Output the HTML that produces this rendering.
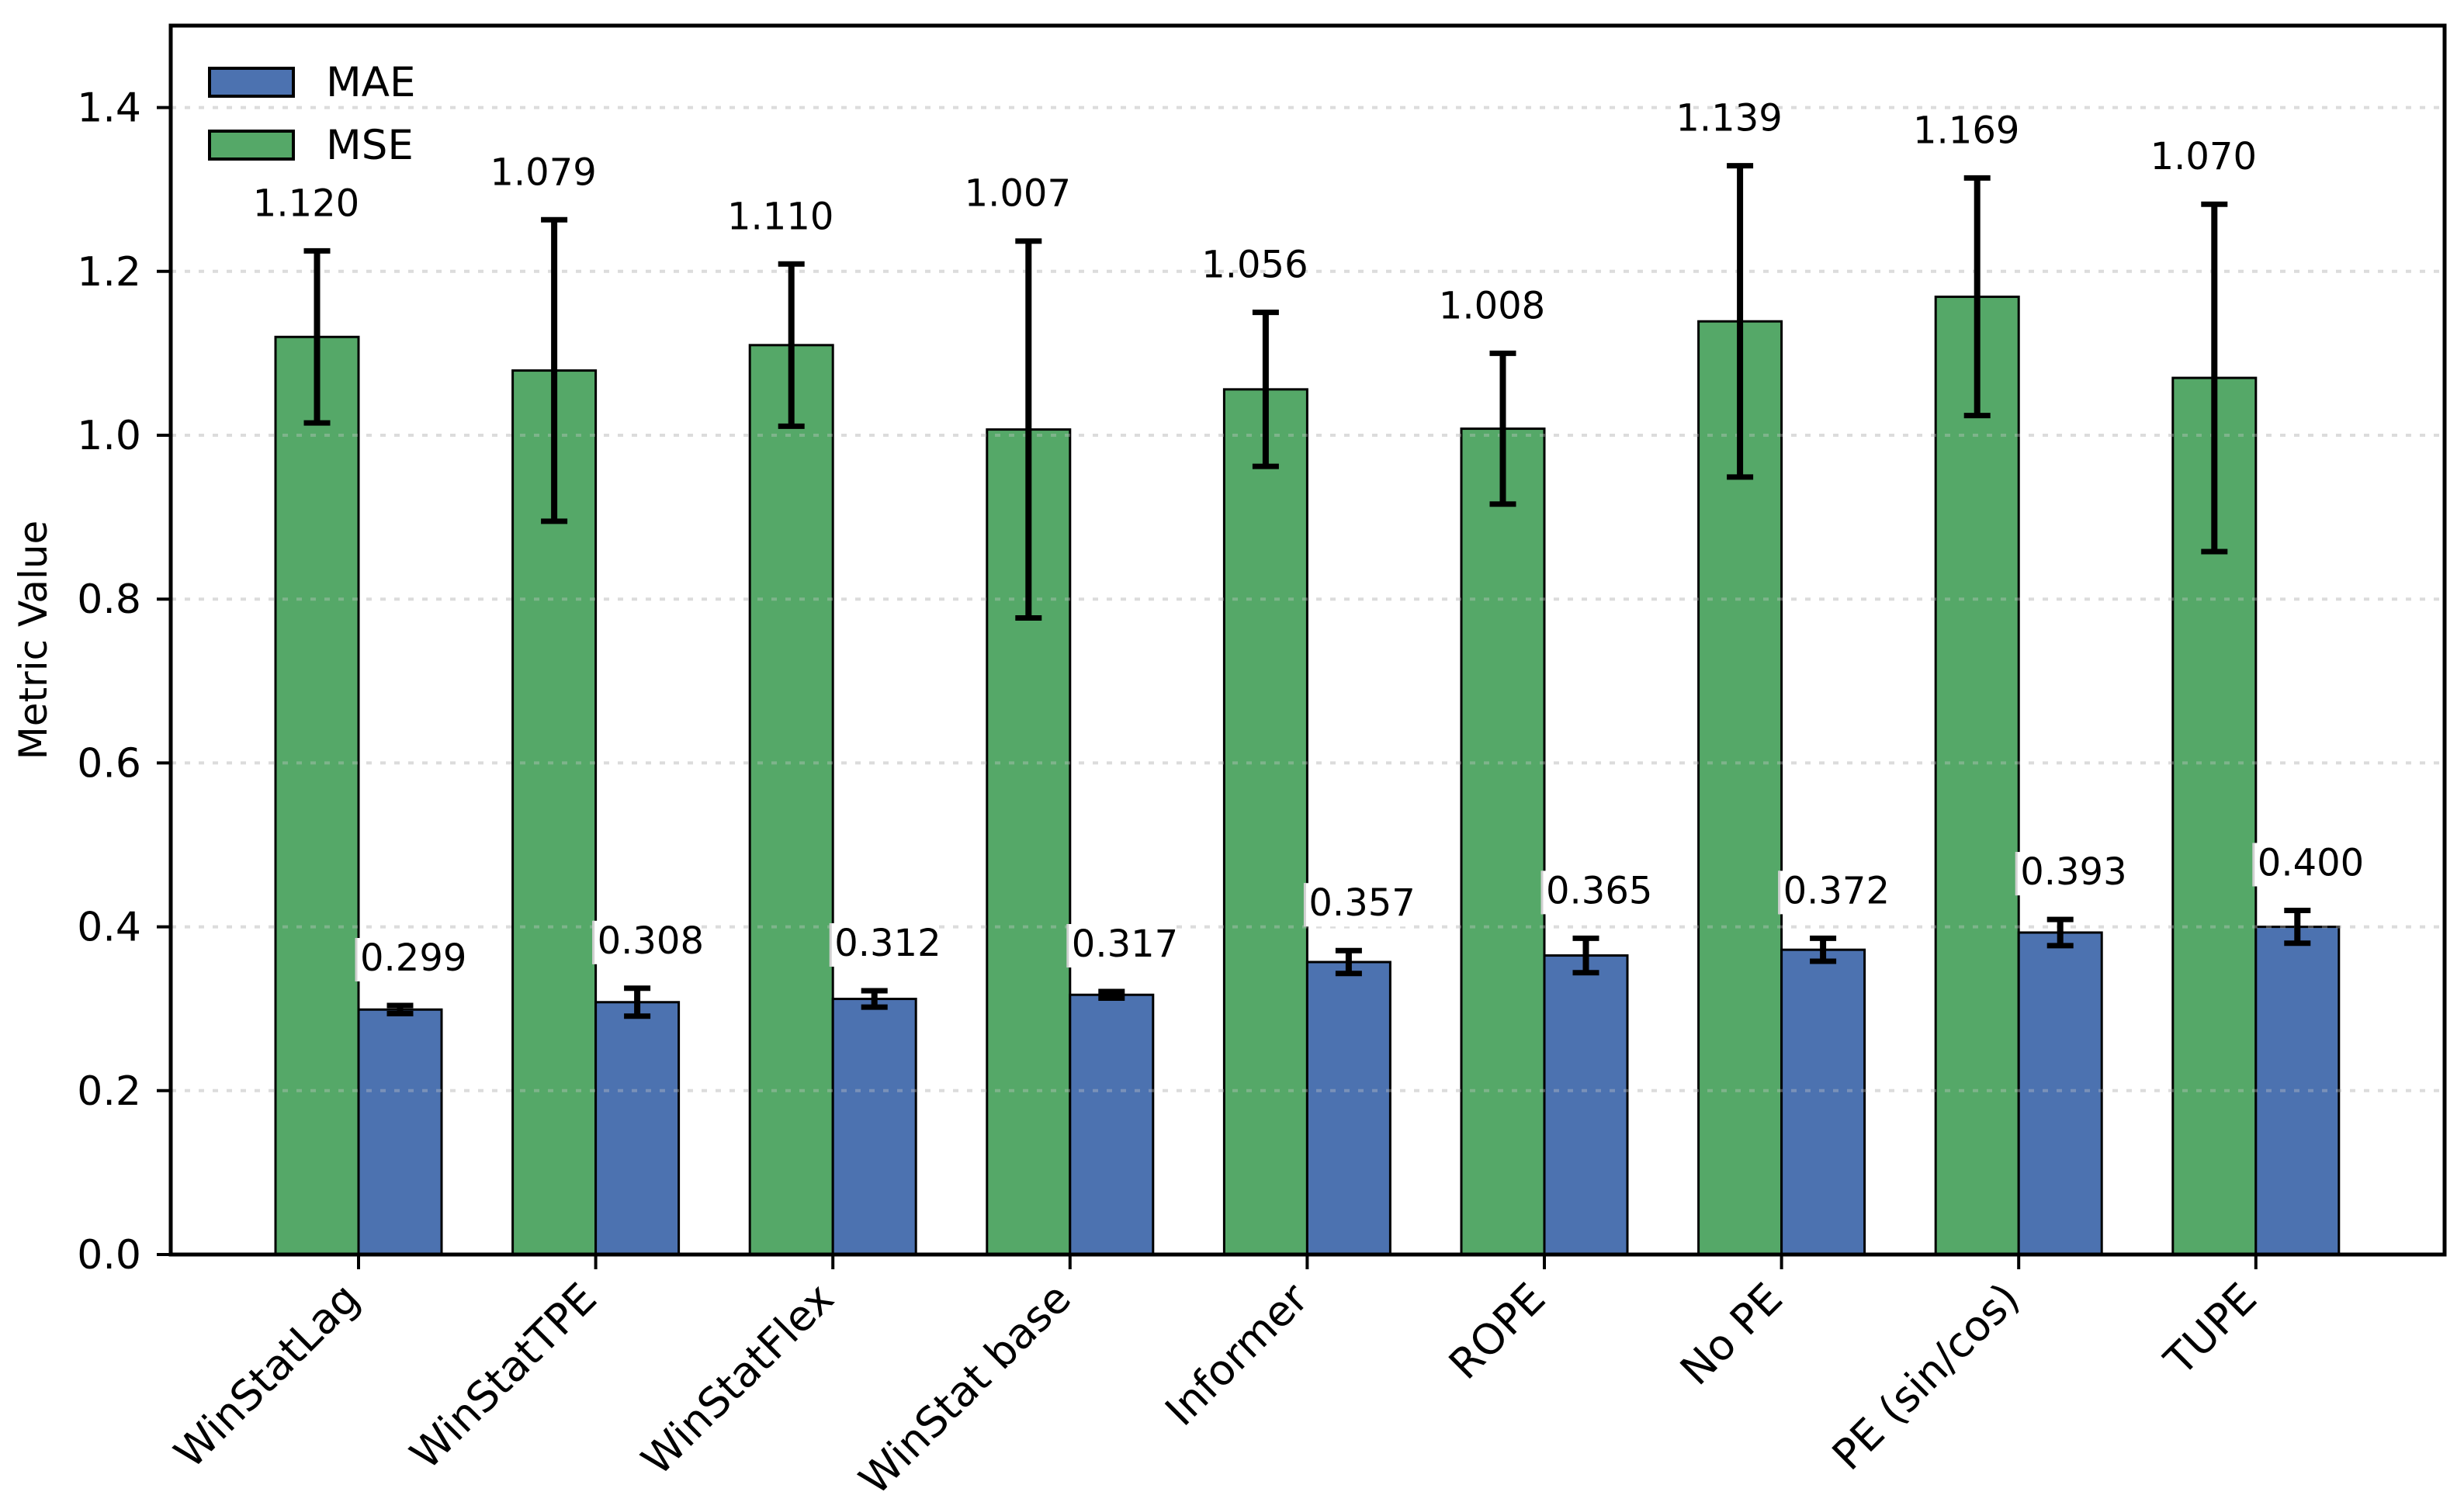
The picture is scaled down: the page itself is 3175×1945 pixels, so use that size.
<!DOCTYPE html>
<html><head><meta charset="utf-8"><style>
html,body{margin:0;padding:0;background:#fff}
svg{display:block}
text{font-family:"DejaVu Sans","Liberation Sans",sans-serif}
</style></head><body>
<svg id="chart" width="3175" height="1945" viewBox="0 0 3175 1945" xmlns="http://www.w3.org/2000/svg">
<g id="grid"></g><g id="bars"></g><g id="gridTop"></g><g id="errs"></g><g id="labels"></g><g id="axes"></g>
</svg>
<script>
const categories = ["WinStatLag","WinStatTPE","WinStatFlex","WinStat base","Informer","ROPE","No PE","PE (sin/cos)","TUPE"];
const mseValues = [1.120,1.079,1.110,1.007,1.056,1.008,1.139,1.169,1.070];
const mseErrors = [0.105,0.184,0.099,0.230,0.094,0.092,0.190,0.145,0.212];
const maeValues = [0.299,0.308,0.312,0.317,0.357,0.365,0.372,0.393,0.400];
const maeErrors = [0.005,0.017,0.010,0.004,0.014,0.021,0.014,0.016,0.020];
const yTicks = [0.0,0.2,0.4,0.6,0.8,1.0,1.2,1.4];

const NS="http://www.w3.org/2000/svg";
const L=220,R=3150,T=33,B=1617,YMAX=1.5;
const x0=462, step=305.6, bw=107;
function xs(i){return x0+step*i;}
function ys(v){return B-(B-T)*v/YMAX;}
function mk(tag,attrs,parent,txt){const e=document.createElementNS(NS,tag);for(const k in attrs)e.setAttribute(k,attrs[k]);if(txt!==undefined)e.textContent=txt;document.getElementById(parent).appendChild(e);return e;}

yTicks.forEach(v=>{
  if(v===0)return;
  const g=mk('line',{x1:L,x2:R,y1:ys(v),y2:ys(v),stroke:'#e6e6e6','stroke-width':4,'stroke-dasharray':'7,11'},'grid');
  
  
  const g2=mk('line',{x1:L,x2:R,y1:ys(v),y2:ys(v),stroke:'#cccccc','stroke-width':4,'stroke-dasharray':'7,11',opacity:0.35},'gridTop');
  
  
});

categories.forEach((c,i)=>{
  const cx=xs(i);
  const g=mk('rect',{x:cx-bw,y:ys(mseValues[i]),width:bw,height:B-ys(mseValues[i]),fill:'#55a868',stroke:'#000','stroke-width':3},'bars');
  
  
  const b=mk('rect',{x:cx,y:ys(maeValues[i]),width:bw,height:B-ys(maeValues[i]),fill:'#4c72b0',stroke:'#000','stroke-width':3},'bars');
  
  
  [[cx-bw/2,mseValues[i],mseErrors[i]],[cx+bw/2,maeValues[i],maeErrors[i]]].forEach(([ex,v,e])=>{
    const p=mk('path',{d:`M${ex},${ys(v+e)}V${ys(v-e)}`,stroke:'#000','stroke-width':8,fill:'none'},'errs');
    
    
    const cp=mk('path',{d:`M${ex-17},${ys(v+e)}H${ex+17}M${ex-17},${ys(v-e)}H${ex+17}`,stroke:'#000','stroke-width':7,fill:'none'},'errs');
    
    
  });
  const t1=mk('text',{x:cx-bw/2-14,y:ys(mseValues[i]+mseErrors[i])-45,'font-size':48,'text-anchor':'middle'},'labels',mseValues[i].toFixed(3));
  
  
  const ly=ys(maeValues[i]+maeErrors[i])-45;
  const bg=mk('rect',{x:cx-4,y:ly-42,width:140,height:56,fill:'#fff'},'labels');
  
  
  const ed=mk('line',{x1:cx-3,x2:cx-3,y1:ly-42,y2:ly+14,stroke:'#d0d0d0','stroke-width':3},'labels');
  
  
  const t2=mk('text',{x:cx+2,y:ly,'font-size':48,'text-anchor':'start'},'labels',maeValues[i].toFixed(3));
  
  
  const tk=mk('line',{x1:cx,x2:cx,y1:B,y2:B+19,stroke:'#000','stroke-width':4},'axes');
  
  
  const tl=mk('text',{x:cx+4,y:B+60,'font-size':54,'text-anchor':'end',transform:`rotate(-45 ${cx+4} ${B+60})`},'axes',c);
  
  
});

yTicks.forEach(v=>{
  const tk=mk('line',{x1:L-18,x2:L,y1:ys(v),y2:ys(v),stroke:'#000','stroke-width':4},'axes');
  
  
  const tl=mk('text',{x:L-38,y:ys(v)+18,'font-size':52,'text-anchor':'end'},'axes',v.toFixed(1));
  
  
});
const fr=mk('rect',{x:L,y:T,width:R-L,height:B-T,fill:'none',stroke:'#000','stroke-width':5},'axes');


const yl=mk('text',{x:60,y:(T+B)/2,'font-size':50,'text-anchor':'middle',transform:`rotate(-90 60 ${(T+B)/2})`},'axes','Metric Value');



const lp1=mk('rect',{x:270,y:88,width:108,height:36,fill:'#4c72b0',stroke:'#000','stroke-width':4},'axes');


const lt1=mk('text',{x:420,y:124,'font-size':53},'axes','MAE');


const lp2=mk('rect',{x:270,y:169,width:108,height:36,fill:'#55a868',stroke:'#000','stroke-width':4},'axes');


const lt2=mk('text',{x:420,y:205,'font-size':53},'axes','MSE');


</script>
</body></html>
